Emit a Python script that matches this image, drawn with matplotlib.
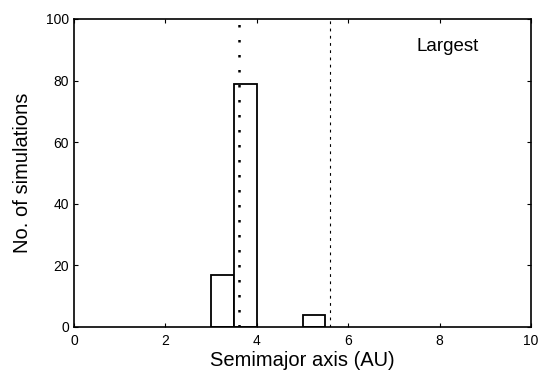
import numpy as np
import matplotlib.pyplot as plt

plt.rcParams['font.family'] = ['Liberation Sans', 'DejaVu Sans']

# histogram data: left bin edges (AU) and counts
bin_left = [3.0, 3.5, 5.0]
bin_width = 0.5
counts = [17, 79, 4]

# reference lines (AU)
thick_line_x = 3.6
thin_line_x = 5.6

x_ticks = [0, 2, 4, 6, 8, 10]
y_ticks = [0, 20, 40, 60, 80, 100]

fig = plt.figure(figsize=(5.45, 3.8), dpi=100)
ax = fig.add_axes([0.1358, 0.1395, 0.8385, 0.8105])

ax.bar(bin_left, counts, width=bin_width, align='edge',
       facecolor='white', edgecolor='black', linewidth=1.3, zorder=2)

ax.axvline(thick_line_x, color='black', linewidth=1.8,
           linestyle=(0, (1, 5)), zorder=3)
ax.axvline(thin_line_x, color='black', linewidth=0.8,
           linestyle=(0, (2.5, 4)), zorder=3)

ax.set_xlim(0, 10)
ax.set_ylim(0, 100)
ax.set_xticks(x_ticks)
ax.set_yticks(y_ticks)
ax.tick_params(direction='in', top=True, right=True, length=3,
               labelsize=10, width=0.8)
ax.tick_params(axis='x', pad=5)
for s in ax.spines.values():
    s.set_linewidth(1.2)

ax.set_xlabel('Semimajor axis (AU)', fontsize=14.5, labelpad=2)
ax.set_ylabel('No. of simulations', fontsize=14.5, labelpad=10)
ax.text(7.5, 91, 'Largest', fontsize=13.5, va='center', ha='left')

fig.savefig('out.png', dpi=100)
